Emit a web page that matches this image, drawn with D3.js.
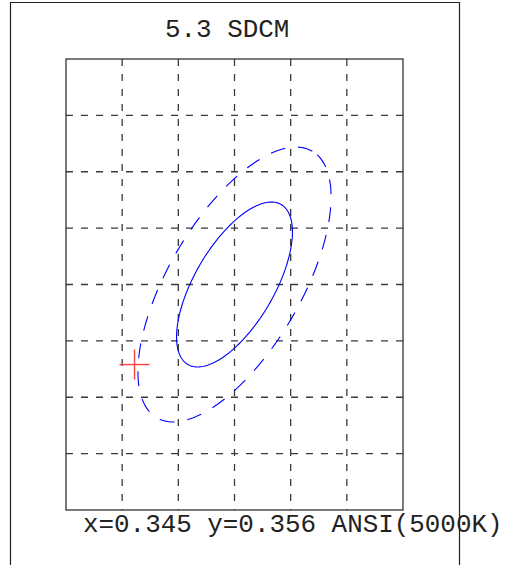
<!DOCTYPE html>
<html>
<head>
<meta charset="utf-8">
<script src="https://cdn.jsdelivr.net/npm/d3@7"></script>
<style>
  html, body { margin: 0; padding: 0; background: #fff; }
  svg { display: block; }
</style>
</head>
<body>
<svg id="chart" width="516" height="565"></svg>
<script>
// ---- data ----
const xDomain = [0.3297, 0.3597];
const yDomain = [0.3353, 0.3753];
const xTicks = [0.3347, 0.3397, 0.3447, 0.3497, 0.3547];
const yTicks = [0.3403, 0.3453, 0.3503, 0.3553, 0.3603, 0.3653, 0.3703];
const center = [0.3447, 0.3553];           // ANSI 5000K centre
const ellipseAxes = [0.00274, 0.00118];    // 1-step MacAdam a, b
const ellipseAngleDeg = 59.62;
const ellipseSteps = [3, 5];
const ellipseDashed = [false, true];
const measured = [0.3358, 0.3482];
const titleText = "5.3 SDCM";
const footText = "x=0.345 y=0.356 ANSI(5000K)";

// ---- layout ----
const svg = d3.select("#chart");
const plot = { left: 66, top: 59, right: 403, bottom: 510 };
const x = d3.scaleLinear().domain(xDomain).range([plot.left, plot.right]);
const y = d3.scaleLinear().domain(yDomain).range([plot.bottom, plot.top]);

// outer frame (open at bottom)
svg.append("path")
  .attr("d", "M10.5,565 L10.5,2.5 L459.5,2.5 L459.5,565")
  .attr("fill", "none").attr("stroke", "#222").attr("stroke-width", 1.2);

// grid
const g = svg.append("g");
g.selectAll("line.v").data(xTicks).enter().append("line")
  .attr("x1", d => x(d)).attr("x2", d => x(d))
  .attr("y1", plot.top).attr("y2", plot.bottom)
  .attr("stroke", "#3a3a3a").attr("stroke-width", 1.3)
  .attr("stroke-dasharray", "7,8");
g.selectAll("line.h").data(yTicks).enter().append("line")
  .attr("y1", d => y(d)).attr("y2", d => y(d))
  .attr("x1", plot.left).attr("x2", plot.right)
  .attr("stroke", "#3a3a3a").attr("stroke-width", 1.3)
  .attr("stroke-dasharray", "7,8");

// plot border
svg.append("rect")
  .attr("x", plot.left).attr("y", plot.top)
  .attr("width", plot.right - plot.left).attr("height", plot.bottom - plot.top)
  .attr("fill", "none").attr("stroke", "#333").attr("stroke-width", 1.3);

// ellipses
const th = ellipseAngleDeg * Math.PI / 180;
const angles = d3.range(0, 361, 2).map(d => d * Math.PI / 180);
const line = d3.line().x(p => x(p[0])).y(p => y(p[1]));
ellipseSteps.forEach((n, i) => {
  const a = ellipseAxes[0] * n, b = ellipseAxes[1] * n;
  const pts = angles.map(t => [
    center[0] + a * Math.cos(t) * Math.cos(th) - b * Math.sin(t) * Math.sin(th),
    center[1] + a * Math.cos(t) * Math.sin(th) + b * Math.sin(t) * Math.cos(th)
  ]);
  svg.append("path").attr("d", line(pts))
    .attr("fill", "none").attr("stroke", "#0000ff").attr("stroke-width", 1.1)
    .attr("stroke-dasharray", ellipseDashed[i] ? "15,13" : null);
});

// measured point cross
const cx = x(measured[0]), cy = y(measured[1]);
svg.append("line").attr("x1", cx - 15).attr("x2", cx + 15).attr("y1", cy).attr("y2", cy)
  .attr("stroke", "#ff4040").attr("stroke-width", 1.4);
svg.append("line").attr("x1", cx).attr("x2", cx).attr("y1", cy - 15).attr("y2", cy + 15)
  .attr("stroke", "#ff4040").attr("stroke-width", 1.4);

// texts
svg.append("text").attr("x", 165).attr("y", 37)
  .attr("font-family", "'Liberation Mono', 'DejaVu Sans Mono', monospace")
  .attr("font-size", 25.9).attr("fill", "#222").text(titleText);
svg.append("text").attr("x", 83).attr("y", 532)
  .attr("font-family", "'Liberation Mono', 'DejaVu Sans Mono', monospace")
  .attr("font-size", 25.9).attr("fill", "#222").text(footText);
</script>
</body>
</html>
